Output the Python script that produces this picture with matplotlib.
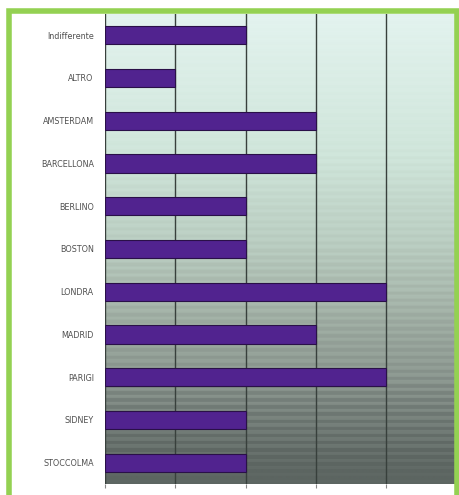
import numpy as np
import matplotlib
matplotlib.use("Agg")
from matplotlib import pyplot as plt
from matplotlib.colors import LinearSegmentedColormap
from matplotlib.patches import Rectangle

# dati
citta = ["Indifferente", "ALTRO", "AMSTERDAM", "BARCELLONA", "BERLINO", "BOSTON",
         "LONDRA", "MADRID", "PARIGI", "SIDNEY", "STOCCOLMA"]
valori = [2, 1, 3, 3, 2, 2, 4, 3, 4, 2, 2]
x_max = 5

fig = plt.figure(figsize=(4.6, 4.95), dpi=100)
ax = fig.add_axes([0.228, 0.022, 0.765, 0.95])

# sfondo sfumato con bande orizzontali
sfondo = LinearSegmentedColormap.from_list(
    "sfondo", [(0.0, "#e3f3ef"), (0.29, "#d0e6db"), (0.5, "#b8cbbf"), (0.61, "#a6b5aa"),
               (0.78, "#89948d"), (0.86, "#727c77"), (0.95, "#5f6864"), (1.0, "#5c6561")])
righe = np.linspace(0, 1, 470)
bande = 0.025 * np.sign(np.sin(righe * 2 * np.pi * 66))
grad = np.clip(righe + bande * (0.3 + righe), 0, 1)[:, None]
ax.imshow(grad, cmap=sfondo, aspect="auto", extent=[0, x_max, len(citta) - 0.5, -0.5],
          zorder=0, interpolation="bilinear")

y = np.arange(len(citta))
ax.barh(y, valori, height=0.43, color="#51238f", edgecolor="#2a1048", linewidth=0.8, zorder=3)

ax.set_xlim(0, x_max)
ax.set_ylim(len(citta) - 0.5, -0.5)
ax.set_xticks(np.arange(0, x_max + 1))
ax.set_xticklabels([])
ax.set_yticks(y)
ax.set_yticklabels(citta, fontsize=5.8, color="#505050")
ax.tick_params(axis="y", length=0, pad=8)
ax.tick_params(axis="x", length=3, color="#888888")
ax.grid(axis="x", color="#38403c", linewidth=1.0, zorder=1)
for s in ax.spines.values():
    s.set_visible(False)

# cornice verde
fig.patches.append(Rectangle((9.5 / 460, -0.05), (457.5 - 9.5) / 460, 1 - 10.5 / 495 + 0.05,
                             transform=fig.transFigure, fill=False,
                             edgecolor="#94d152", linewidth=4, zorder=10))

fig.savefig("out.png", dpi=100)
